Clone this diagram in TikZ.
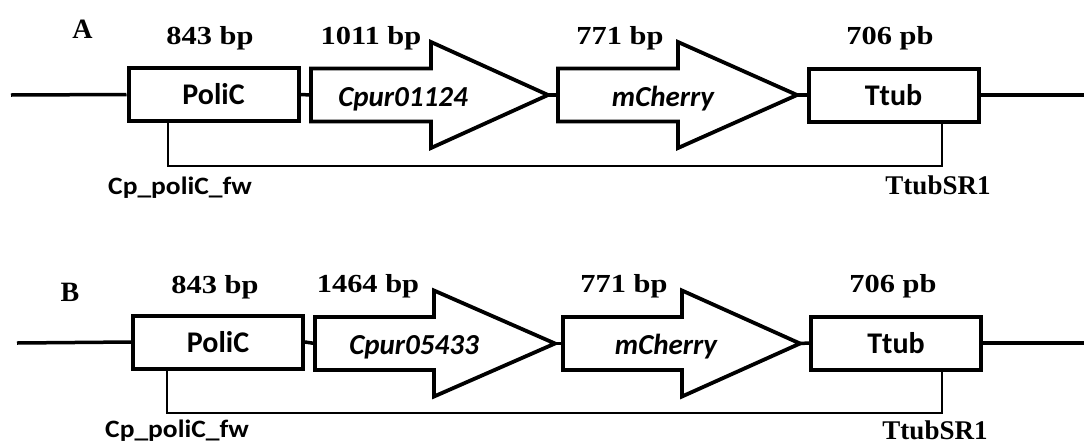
\documentclass[tikz,border=0pt]{standalone}
\usepackage{fontspec}
\setmainfont{Liberation Serif}
\newfontfamily\calibri{Carlito}

% gene drawn as a block arrow: name, x of tail, x of head base, x of tip, y of axis
\newcommand\genearrow[5]{%
  \draw[genebody] (#2,#5-26.5) -- (#3,#5-26.5) -- (#3,#5-53) -- (#4,#5)
    -- (#3,#5+53) -- (#3,#5+26.5) -- (#2,#5+26.5) -- cycle;
  \coordinate (#1-tail) at (#2,#5);
  \coordinate (#1-tip) at (#4,#5);
}

\tikzset{
  backbone/.style={line width=3.5pt},
  genebody/.style={line width=3.8pt, line join=miter},
  genebox/.style={draw, line width=4pt, minimum width=170pt, minimum height=53pt,
    inner sep=0pt, font=\calibri\bfseries\fontsize{30}{32}\selectfont},
  genename/.style={inner sep=0pt, anchor=base, font=\calibri\bfseries\itshape\fontsize{29}{31}\selectfont},
  sizelabel/.style={inner sep=0pt, anchor=base, font=\bfseries\fontsize{26}{28}\selectfont},
  panellabel/.style={inner sep=0pt, anchor=base, font=\bfseries\fontsize{28}{30}\selectfont},
  fwlabel/.style={inner sep=0pt, anchor=base, font=\calibri\bfseries\fontsize{25}{27}\selectfont},
  rvlabel/.style={inner sep=0pt, anchor=base, font=\bfseries\fontsize{27}{29}\selectfont},
  primer/.style={line width=1.8pt},
}

\begin{document}
\begin{tikzpicture}[x=1pt, y=-1pt]
\path[use as bounding box, fill=white] (0,0) rectangle (1084,445);

% ---------------- construct A ----------------
\node[panellabel] (labA) at (82.5,38) {A};
\node[sizelabel] (szA1) at (210,44) {\scalebox{1.17}[1]{843 bp}};
\node[sizelabel] (szA2) at (371,44) {\scalebox{1.17}[1]{1011 bp}};
\node[sizelabel] (szA3) at (620,44) {\scalebox{1.17}[1]{771 bp}};
\node[sizelabel] (szA4) at (890,44) {\scalebox{1.17}[1]{706 pb}};

\node[genebox] (policA) at (213.5,94.5) {PoliC};
\genearrow{cpurA}{311}{431}{548}{95}
\genearrow{mcherA}{558}{678}{797}{95}
\node[genebox] (ttubA) at (893.5,95) {Ttub};
\node[genename] (cpurAname) at (403,106) {Cpur01124};
\node[genename] (mcherAname) at (663,106) {mCherry};

\coordinate (leftA) at (11,95);
\coordinate (rightA) at (1084,95);
\draw[backbone] (leftA) -- (policA.west);
\draw[backbone] (policA.east) -- (cpurA-tail);
\draw[backbone] (cpurA-tip) -- (mcherA-tail);
\draw[backbone] (mcherA-tip) -- (ttubA.west);
\draw[backbone] (ttubA.east) -- (rightA);

\coordinate (fwA) at (168,166);
\coordinate (rvA) at (942,166);
\draw[primer] (policA.south -| fwA) -- (fwA) -- (rvA) -- (ttubA.south -| rvA);
\node[fwlabel] (fwAname) at (180,194) {\scalebox{1.1}[1]{Cp\_poliC\_fw}};
\node[rvlabel] (rvAname) at (938,194) {TtubSR1};

% ---------------- construct B ----------------
\node[panellabel] (labB) at (70,301) {B};
\node[sizelabel] (szB1) at (215,293) {\scalebox{1.17}[1]{843 bp}};
\node[sizelabel] (szB2) at (368,292) {\scalebox{1.17}[1]{1464 bp}};
\node[sizelabel] (szB3) at (624,292) {\scalebox{1.17}[1]{771 bp}};
\node[sizelabel] (szB4) at (893,292) {\scalebox{1.17}[1]{706 pb}};

\node[genebox] (policB) at (218,342) {PoliC};
\genearrow{cpurB}{315}{434}{555}{343.5}
\genearrow{mcherB}{563}{682}{800}{343.5}
\node[genebox] (ttubB) at (896,343) {Ttub};
\node[genename] (cpurBname) at (414,354) {Cpur05433};
\node[genename] (mcherBname) at (666,354) {mCherry};

\coordinate (leftB) at (17,343);
\coordinate (rightB) at (1084,343);
\draw[backbone] (leftB) -- (policB.west);
\draw[backbone] (policB.east) -- (cpurB-tail);
\draw[backbone] (cpurB-tip) -- (mcherB-tail);
\draw[backbone] (mcherB-tip) -- (ttubB.west);
\draw[backbone] (ttubB.east) -- (rightB);

\coordinate (fwB) at (167,413);
\coordinate (rvB) at (942,413);
\draw[primer] (policB.south -| fwB) -- (fwB) -- (rvB) -- (ttubB.south -| rvB);
\node[fwlabel] (fwBname) at (177,437) {\scalebox{1.1}[1]{Cp\_poliC\_fw}};
\node[rvlabel] (rvBname) at (935,439) {TtubSR1};
\end{tikzpicture}
\end{document}
